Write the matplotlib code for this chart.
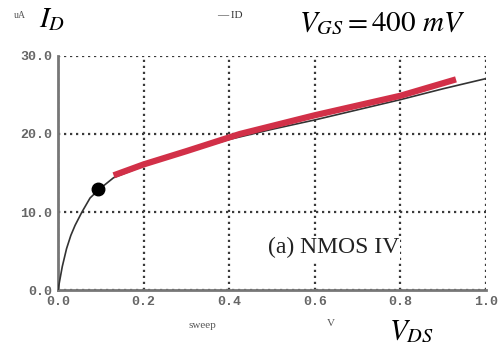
import numpy as np
import matplotlib.pyplot as plt

# ID sweep curve (black)
vds = [0.0, 0.01, 0.02, 0.03, 0.04, 0.056, 0.075, 0.096, 0.13, 0.2, 0.3, 0.4, 0.5, 0.6, 0.7, 0.8, 0.9, 1.0]
i_d = [0.0, 3.0, 5.3, 7.0, 8.3, 10.0, 11.8, 12.9, 14.4, 15.9, 17.7, 19.3, 20.6, 21.8, 23.1, 24.4, 25.8, 27.1]

# red fit line
vds_fit = [0.13, 0.2, 0.3, 0.425, 0.6, 0.8, 0.93]
i_fit = [14.7, 16.1, 17.8, 20.0, 22.4, 24.9, 27.0]

# operating point
op_v = [0.093]
op_i = [13.0]

xticks = [0.0, 0.2, 0.4, 0.6, 0.8, 1.0]
xlabels = ['0.0', '0.2', '0.4', '0.6', '0.8', '1.0']
yticks = [0.0, 10.0, 20.0, 30.0]
ylabels = ['0.0', '10.0', '20.0', '30.0']

plt.rcParams['mathtext.fontset'] = 'stix'

fig = plt.figure(figsize=(5.02, 3.52), dpi=100)
ax = fig.add_axes([0.1155, 0.176, 0.8525, 0.665])

ax.plot(vds, i_d, color='#333333', lw=1.2, zorder=3)
ax.plot(vds_fit, i_fit, color='#d23048', lw=4.5, solid_capstyle='butt', zorder=4)
ax.plot(op_v, op_i, 'o', color='black', ms=9, zorder=5)

ax.set_xlim(0, 1.0)
ax.set_ylim(0, 30.0)
ax.set_xticks(xticks)
ax.set_xticklabels(xlabels)
ax.set_yticks(yticks)
ax.set_yticklabels(ylabels)
ax.tick_params(length=0, labelsize=9.5, colors='#666666', pad=4)
for lab in ax.get_xticklabels() + ax.get_yticklabels():
    lab.set_family('Liberation Mono')
    lab.set_fontweight('bold')

ax.grid(True, color='#3a3a3a', ls=(0, (1.0, 1.7)), lw=1.6)
ax.spines['top'].set_visible(False)
ax.spines['right'].set_visible(False)
for s in ['left', 'bottom']:
    ax.spines[s].set_color('#777777')
    ax.spines[s].set_linewidth(2)

# labels around the plot
fig.text(0.028, 0.955, 'uA', fontsize=7, family='Liberation Serif', color='#555555', va='center')
fig.text(0.078, 0.945, '$I_D$', fontsize=21, va='center')
fig.text(0.432, 0.955, '\u2014 ID', fontsize=8, family='Liberation Serif', color='#333333', va='center')
fig.text(0.595, 0.935, '$V_{GS} = 400\\ mV$', fontsize=21, va='center')
fig.text(0.375, 0.075, 'sweep', fontsize=8, family='Liberation Serif', color='#555555', va='center')
fig.text(0.652, 0.08, 'V', fontsize=8, family='Liberation Serif', color='#555555', va='center')
fig.text(0.775, 0.06, '$V_{DS}$', fontsize=21, va='center')
ax.text(0.49, 0.18, '(a) NMOS IV', transform=ax.transAxes, fontsize=17,
        family='Liberation Serif', color='#222222', va='center', ha='left',
        bbox=dict(facecolor='white', edgecolor='none', pad=1), zorder=6)

fig.savefig('out.png', dpi=100)
